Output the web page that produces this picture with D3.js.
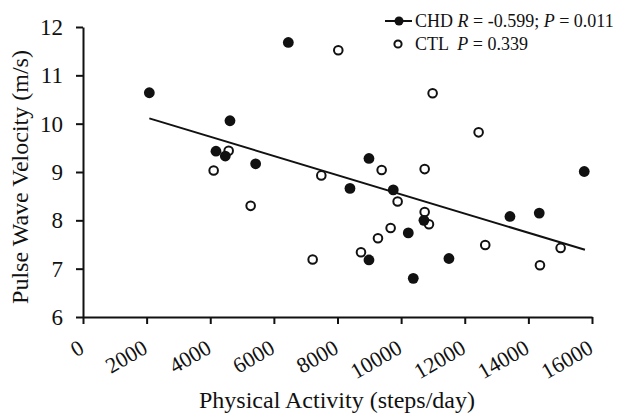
<!DOCTYPE html>
<html>
<head>
<meta charset="utf-8">
<script src="https://cdn.jsdelivr.net/npm/d3@7"></script>
<style>
  body { margin: 0; background: #fff; }
  svg, svg text { font-family: 'Liberation Serif', 'Times New Roman', 'DejaVu Serif', serif; }
</style>
</head>
<body>
<div id="chart"></div>
<script>
const width = 618;
const height = 416;
const serif = "'Liberation Serif', 'Times New Roman', serif";

// CHD group (filled)
const chdSteps = [2085, 6454, 4620, 4180, 4473, 5427, 8989, 15756, 8392, 9753, 10717, 10225, 8989, 10382, 11503, 13421, 14342];
const chdPwv   = [10.64, 11.68, 10.06, 9.43, 9.33, 9.17, 9.28, 9.01, 8.66, 8.63, 8.0, 7.74, 7.18, 6.80, 7.21, 8.08, 8.15];

// CTL group (open)
const ctlSteps = [4579, 4107, 7491, 8025, 10990, 12436, 9388, 10740, 9890, 10740, 10875, 9670, 9272, 8738, 7219, 12644, 14364, 15014, 5270];
const ctlPwv   = [9.44, 9.03, 8.93, 11.52, 10.63, 9.82, 9.04, 9.06, 8.39, 8.17, 7.92, 7.84, 7.63, 7.34, 7.19, 7.49, 7.07, 7.43, 8.30];

// CHD regression line ends
const fitSteps = [2085, 15778];
const fitPwv   = [10.11, 7.39];

const xTicks = [0, 2000, 4000, 6000, 8000, 10000, 12000, 14000, 16000];
const yTicks = [6, 7, 8, 9, 10, 11, 12];

const x = d3.scaleLinear().domain([0, 16000]).range([83, 592]);
const y = d3.scaleLinear().domain([6, 12]).range([317, 27]);

const svg = d3.select("#chart")
  .append("svg")
  .attr("width", width)
  .attr("height", height);

// axes
const xAxis = svg.append("g")
  .attr("transform", `translate(0, ${y(6)})`)
  .call(d3.axisBottom(x).tickValues(xTicks).tickSize(7).tickSizeOuter(0).tickFormat(d3.format("d")));
xAxis.selectAll("text")
  .attr("x", 0).attr("y", 0).attr("dy", 0)
  .attr("transform", "translate(2, 35) rotate(-30)")
  .style("text-anchor", "end");

const yAxis = svg.append("g")
  .attr("transform", `translate(${x(0)}, 0)`)
  .call(d3.axisLeft(y).tickValues(yTicks).tickSize(7).tickSizeOuter(0).tickPadding(13).tickFormat(d3.format("d")));

svg.selectAll(".domain, .tick line").attr("stroke", "#111").attr("stroke-width", 2);
xAxis.attr("font-family", serif).attr("font-size", 22);
yAxis.attr("font-family", serif).attr("font-size", 23);
svg.selectAll(".tick text").attr("fill", "#111");

// regression line
svg.append("line")
  .attr("x1", x(fitSteps[0])).attr("y1", y(fitPwv[0]))
  .attr("x2", x(fitSteps[1])).attr("y2", y(fitPwv[1]))
  .attr("stroke", "#111").attr("stroke-width", 2);

// points
svg.append("g").selectAll("circle")
  .data(ctlSteps.map((s, i) => [s, ctlPwv[i]]))
  .enter().append("circle")
  .attr("cx", d => x(d[0])).attr("cy", d => y(d[1]))
  .attr("r", 4.3)
  .attr("fill", "#fff").attr("stroke", "#111").attr("stroke-width", 2);

svg.append("g").selectAll("circle")
  .data(chdSteps.map((s, i) => [s, chdPwv[i]]))
  .enter().append("circle")
  .attr("cx", d => x(d[0])).attr("cy", d => y(d[1]))
  .attr("r", 5.4)
  .attr("fill", "#111");

// axis titles
svg.append("text")
  .attr("transform", "rotate(-90)")
  .attr("x", -177).attr("y", 28)
  .attr("text-anchor", "middle")
  .attr("font-family", serif).attr("font-size", 24).attr("fill", "#111")
  .text("Pulse Wave Velocity (m/s)");

svg.append("text")
  .attr("x", 337).attr("y", 408)
  .attr("text-anchor", "middle")
  .attr("font-family", serif).attr("font-size", 24).attr("fill", "#111")
  .text("Physical Activity (steps/day)");

// legend
const legend = svg.append("g").attr("font-family", serif).attr("font-size", 18).attr("fill", "#111");
legend.append("line").attr("x1", 385).attr("x2", 412).attr("y1", 21).attr("y2", 21)
  .attr("stroke", "#111").attr("stroke-width", 2);
legend.append("circle").attr("cx", 399).attr("cy", 21).attr("r", 4.5).attr("fill", "#111");
const t1 = legend.append("text").attr("x", 415).attr("y", 27).style("white-space", "pre");
t1.append("tspan").text("CHD ");
t1.append("tspan").style("font-style", "italic").text("R");
t1.append("tspan").text(" = -0.599; ");
t1.append("tspan").style("font-style", "italic").text("P");
t1.append("tspan").text(" = 0.011");

legend.append("circle").attr("cx", 398).attr("cy", 44).attr("r", 3.6)
  .attr("fill", "#fff").attr("stroke", "#111").attr("stroke-width", 2);
const t2 = legend.append("text").attr("x", 415).attr("y", 50).style("white-space", "pre");
t2.append("tspan").text("CTL  ");
t2.append("tspan").style("font-style", "italic").text("P");
t2.append("tspan").text(" = 0.339");
</script>
</body>
</html>
